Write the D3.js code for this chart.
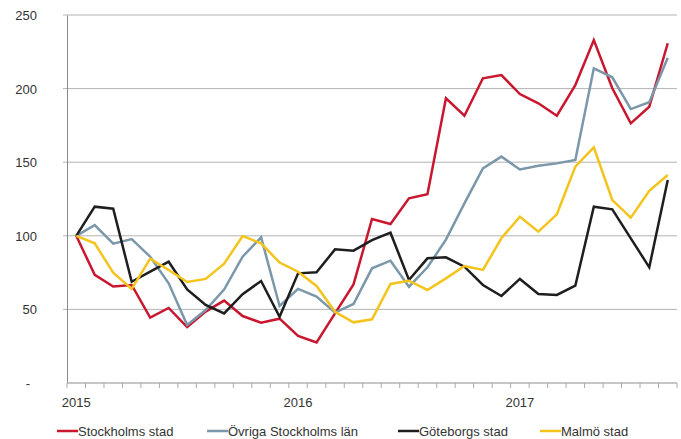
<!DOCTYPE html>
<html><head><meta charset="utf-8">
<script src="https://cdn.jsdelivr.net/npm/d3@7"></script>
<style>body{margin:0;background:#fff}svg text{font-family:"Liberation Sans",Arial,sans-serif}</style>
</head><body><svg id="c" width="681" height="439"></svg>
<script>
const months = d3.range(33).map(i => { const y = 2015 + Math.floor(i/12), m = i%12 + 1; return y + "-" + String(m).padStart(2,"0"); });
const yearLabels = ["2015","2016","2017"];
const yTicks = [0,50,100,150,200,250];
const seriesNames = ["Stockholms stad","Övriga Stockholms län","Göteborgs stad","Malmö stad"];
const seriesColors = ["#c8172f","#7b97aa","#1e1e1e","#f4c41c"];
const stockholm = [100,73.5,65.5,66.6,44.5,51,38,48.5,56,45.5,41,43.7,32,27.6,47.3,67,111.4,108,125.5,128.2,193.4,181.6,207,209.2,196.3,190,181.6,202.4,233,200.2,176.4,187.7,230.8];
const ovriga = [100,107.3,94.7,97.8,85.8,67.7,39.4,49.6,63.5,85.8,99,52.3,63.9,58.7,47.8,53.7,77.9,83.1,65.4,78.6,97.4,122,145.8,153.8,145.1,147.6,149.2,151.5,213.8,207.7,186.1,190.7,221];
const goteborg = [100,119.8,118.4,68.8,75.6,82.4,63.6,53,47.3,60.3,69.3,45,74.5,75.2,90.8,89.9,97.1,102.1,70,84.7,85.4,79,66.6,59.1,70.7,60.5,59.8,66.1,119.8,118,98.3,78.6,137.9];
const malmo = [100,94.9,74.9,63.9,84.5,76.8,68.6,70.7,81,99.9,94.9,81.8,75.6,65.9,48.4,41.2,43.3,67.3,69.5,63.2,71.1,79.5,76.8,98.3,113,102.8,114.6,147,160.1,124.3,112.3,130.6,141.3];
const allSeries = [stockholm, ovriga, goteborg, malmo];

const svg = d3.select("#c");
const L = 67, R = 677, T = 15, B = 383;
const x = d3.scaleBand().domain(months).range([L, R]);
const y = d3.scaleLinear().domain([0,250]).range([B, T]);

// gridlines
svg.append("g").selectAll("line").data(yTicks.filter(d => d > 0)).join("line")
  .attr("x1", L-4).attr("x2", R).attr("y1", d => y(d)).attr("y2", d => y(d))
  .attr("stroke", "#b3b3b3").attr("stroke-width", 1);

// y axis
const yAxis = d3.axisLeft(y).tickValues(yTicks).tickSize(0).tickPadding(30)
  .tickFormat(d => d === 0 ? "-" : d);
const gy = svg.append("g").attr("transform", `translate(${L},0)`).call(yAxis);
gy.select(".domain").attr("stroke", "#8a8a8a");
gy.selectAll("text").attr("font-size", 13).attr("fill", "#333").attr("dy", "0.35em")
  .attr("dx", d => d === 0 ? -7 : 0);

// x axis
const gx = svg.append("g");
gx.append("line").attr("x1", L).attr("x2", R).attr("y1", B).attr("y2", B).attr("stroke", "#b3b3b3").attr("stroke-width", 1.5);
const bounds = months.map(m => x(m)).concat([R]);
gx.selectAll("line.tk").data(bounds).join("line").attr("class","tk")
  .attr("x1", d => d).attr("x2", d => d).attr("y1", B).attr("y2", B + 5)
  .attr("stroke", "#aaa").attr("stroke-width", 1);
gx.selectAll("text").data(yearLabels).join("text")
  .attr("x", d => x(d + "-01") + x.bandwidth()/2).attr("y", 407)
  .attr("text-anchor", "middle").attr("font-size", 13).attr("fill", "#333").text(d => d);

// lines
const line = d3.line().x((d,i) => x(months[i]) + x.bandwidth()/2).y(d => y(d));
svg.append("g").selectAll("path").data(allSeries).join("path")
  .attr("d", d => line(d)).attr("fill", "none")
  .attr("stroke", (d,i) => seriesColors[i]).attr("stroke-width", 2.5)
  .attr("stroke-linejoin", "miter");

// legend
const legX = [57, 207, 398, 540];
const lg = svg.append("g").selectAll("g").data(seriesNames).join("g")
  .attr("transform", (d,i) => `translate(${legX[i]},431)`);
lg.append("line").attr("x1", 0).attr("x2", 21).attr("y1", 0).attr("y2", 0)
  .attr("stroke", (d,i) => seriesColors[i]).attr("stroke-width", 2.5);
lg.append("text").attr("x", 21).attr("y", 0).attr("dy", "0.35em")
  .attr("font-size", 13).attr("fill", "#333").text(d => d);
</script></body></html>
